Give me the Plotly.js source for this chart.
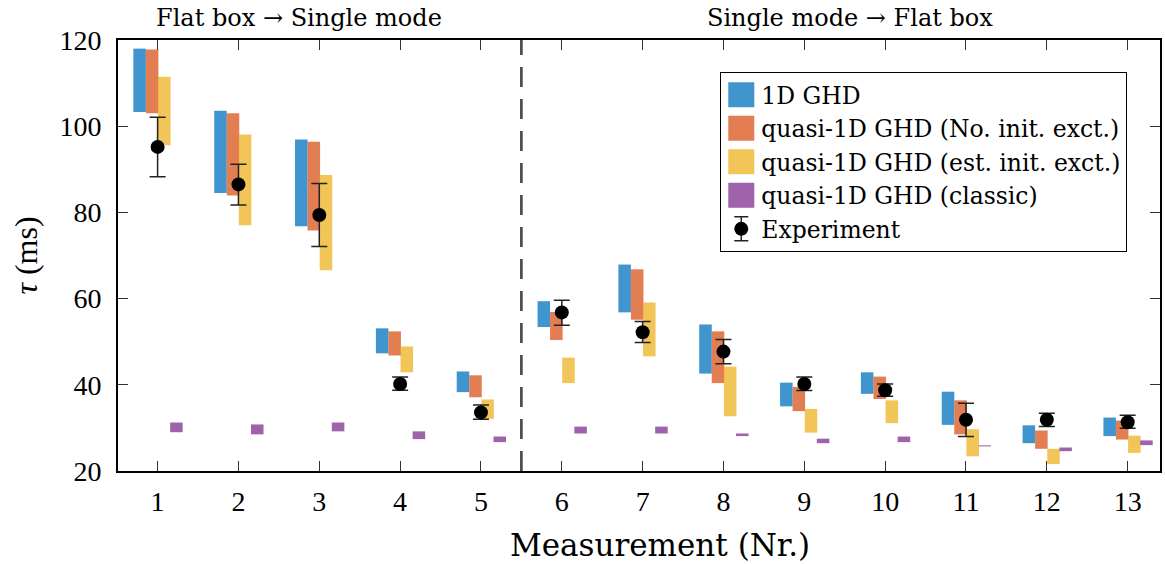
<!DOCTYPE html>
<html>
<head>
<meta charset="utf-8">
<script src="https://cdn.plot.ly/plotly-3.0.1.min.js"></script>
<style>html,body{margin:0;padding:0;background:#fff;}#chart{width:1165px;height:564px;}</style>
</head>
<body>
<div id="chart"></div>
<script>
// Measurement numbers
const measurements = [1,2,3,4,5,6,7,8,9,10,11,12,13];

// 1D GHD (low / high of range, ms)
const ghd1dLow  = [103.3, 84.5, 76.8, 47.3, 38.3, 53.4, 56.8, 42.6, 35.0, 37.9, 30.7, 26.45, 28.1];
const ghd1dHigh = [118.0, 103.6, 96.9, 53.1, 43.1, 59.4, 67.9, 54.0, 40.5, 42.9, 38.4, 30.6, 32.4];

// quasi-1D GHD (No. init. exct.)
const q1dNoLow  = [103.0, 83.9, 75.8, 46.8, 37.1, 50.4, 55.1, 40.4, 33.9, 36.7, 28.5, 25.15, 27.3];
const q1dNoHigh = [117.8, 103.0, 96.4, 52.4, 42.2, 56.9, 66.8, 52.4, 39.5, 41.9, 36.4, 29.4, 31.7];

// quasi-1D GHD (est. init. exct.)
const q1dEstLow  = [95.6, 77.0, 66.6, 42.9, 32.1, 40.4, 46.6, 32.7, 28.9, 31.1, 23.4, 21.6, 24.2];
const q1dEstHigh = [111.5, 98.1, 88.7, 48.9, 36.6, 46.3, 59.1, 44.2, 34.4, 36.4, 29.7, 25.15, 28.2];

// quasi-1D GHD (classic)
const q1dClassicLow  = [29.0, 28.5, 29.2, 27.4, 26.7, 28.7, 28.7, 28.1, 26.45, 26.7, 25.7, 24.6, 26.0];
const q1dClassicHigh = [31.25, 30.8, 31.25, 29.2, 28.0, 30.3, 30.3, 28.7, 27.5, 28.0, 25.95, 25.45, 27.1];

// Experiment: value, upper and lower bound of error bar
const expValue = [95.2, 86.5, 79.4, 40.2, 33.6, 56.8, 52.2, 47.7, 40.2, 38.75, 31.9, 31.9, 31.3];
const expUpper = [102.1, 91.2, 86.7, 41.8, 35.3, 59.6, 54.7, 50.5, 41.8, 40.2, 35.7, 33.4, 32.95];
const expLower = [88.3, 81.7, 72.1, 38.75, 32.0, 53.8, 49.8, 44.9, 38.7, 37.35, 28.0, 30.3, 29.9];

const seriesNames = ['1D GHD', 'quasi-1D GHD (No. init. exct.)', 'quasi-1D GHD (est. init. exct.)', 'quasi-1D GHD (classic)'];
const sectionLabels = ['Flat box \u2192 Single mode', 'Single mode \u2192 Flat box'];
const xTitle = 'Measurement (Nr.)';
const yTitle = '<i>\u03c4</i> (ms)';

const FONT = 'Liberation Serif, Times New Roman, serif';
const WFONT = 'DejaVu Serif, serif';
const colors = ['rgb(0,114,189)', 'rgb(217,83,25)', 'rgb(237,177,32)', 'rgb(126,47,142)'];
const offsets = [-0.3, -0.145, 0.005, 0.155];
const lows = [ghd1dLow, q1dNoLow, q1dEstLow, q1dClassicLow];
const highs = [ghd1dHigh, q1dNoHigh, q1dEstHigh, q1dClassicHigh];

const traces = seriesNames.map((name, i) => ({
  type: 'bar',
  name: name,
  x: measurements,
  base: lows[i],
  y: highs[i].map((h, k) => h - lows[i][k]),
  offset: offsets[i],
  width: 0.155,
  marker: {color: colors[i], opacity: 0.75, line: {width: 0}},
  hoverinfo: 'x+y'
}));

traces.push({
  type: 'scatter',
  mode: 'markers',
  name: 'Experiment',
  x: measurements,
  y: expValue,
  marker: {color: 'black', size: 14, symbol: 'circle'},
  error_y: {
    type: 'data',
    symmetric: false,
    array: expUpper.map((u, k) => u - expValue[k]),
    arrayminus: expValue.map((v, k) => v - expLower[k]),
    color: '#222',
    thickness: 1.5,
    width: 8
  }
});

const layout = {
  width: 1165,
  height: 564,
  margin: {l: 118, r: 5, t: 40, b: 93},
  paper_bgcolor: '#fff',
  plot_bgcolor: '#fff',
  barmode: 'overlay',
  showlegend: true,
  font: {family: FONT, color: '#000', size: 24},
  xaxis: {
    range: [0.51, 13.4],
    tickmode: 'array',
    tickvals: measurements,
    ticktext: measurements.map(String),
    ticks: 'inside',
    ticklen: 10,
    tickwidth: 1,
    tickcolor: '#333',
    mirror: 'allticks',
    showline: true,
    linecolor: '#000',
    linewidth: 2,
    showgrid: false,
    zeroline: false,
    ticklabelstandoff: 4,
    tickfont: {family: FONT, size: 28}
  },
  yaxis: {
    range: [20, 120],
    tickmode: 'array',
    tickvals: [20, 40, 60, 80, 100, 120],
    ticks: 'inside',
    ticklen: 10,
    tickwidth: 1,
    tickcolor: '#333',
    mirror: 'allticks',
    showline: true,
    linecolor: '#000',
    linewidth: 2,
    showgrid: false,
    zeroline: false,
    ticklabelstandoff: 9,
    tickfont: {family: FONT, size: 28},
    title: {text: yTitle, font: {family: FONT, size: 32}, standoff: 12}
  },
  legend: {
    x: 0.578, y: 0.926, xanchor: 'left', yanchor: 'top',
    bgcolor: '#fff', bordercolor: '#000', borderwidth: 1,
    font: {family: WFONT, size: 23.5},
    tracegroupgap: 0,
    itemwidth: 30
  },
  shapes: [{
    type: 'line', xref: 'x', yref: 'paper',
    x0: 5.5, x1: 5.5, y0: 0, y1: 1,
    line: {color: '#4d4d4d', width: 2.7, dash: '20px,12px'}
  }],
  annotations: [
    {text: sectionLabels[0], xref: 'x', yref: 'paper', x: 2.75, y: 1.051, showarrow: false, font: {family: WFONT, size: 24}, xanchor: 'center', yanchor: 'middle'},
    {text: sectionLabels[1], xref: 'x', yref: 'paper', x: 9.57, y: 1.051, showarrow: false, font: {family: WFONT, size: 24}, xanchor: 'center', yanchor: 'middle'},
    {text: xTitle, xref: 'paper', yref: 'paper', x: 0.52, y: -0.172, showarrow: false, font: {family: WFONT, size: 31}, xanchor: 'center', yanchor: 'middle'}
  ]
};

Plotly.newPlot('chart', traces, layout, {displayModeBar: false, staticPlot: true}).then(gd => {
  // enlarge legend swatches and add an error-bar glyph to the Experiment entry
  const items = gd.querySelectorAll('.legend .traces');
  items.forEach((item, idx) => {
    const pts = item.querySelector('.legendpoints');
    if (!pts) return;
    if (idx < 4) {
      pts.querySelectorAll('path').forEach(p => {
        p.setAttribute('d', 'M13,12.5H-13V-12.5H13Z');
        p.style.opacity = '0.75';
      });
    } else {
      const mk = pts.querySelector('path');
      const ns = 'http://www.w3.org/2000/svg';
      const eb = document.createElementNS(ns, 'path');
      eb.setAttribute('d', 'M0,-12V12M-7,-12H7M-7,12H7');
      eb.setAttribute('stroke', '#222');
      eb.setAttribute('stroke-width', '1.5');
      eb.setAttribute('fill', 'none');
      if (mk && mk.getAttribute('transform')) eb.setAttribute('transform', mk.getAttribute('transform'));
      if (mk) mk.parentNode.insertBefore(eb, mk); else pts.appendChild(eb);
    }
  });
});
</script>
</body>
</html>
